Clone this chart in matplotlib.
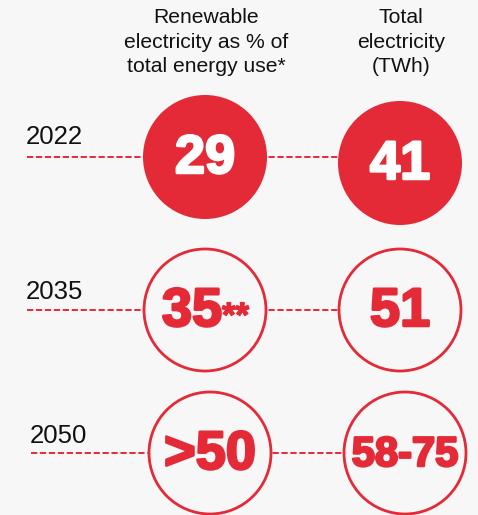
import matplotlib
matplotlib.use("Agg")
import matplotlib.pyplot as plt
import matplotlib.patheffects as pe
from matplotlib.patches import Circle

plt.rcParams["font.family"] = ["Liberation Sans", "DejaVu Sans"]

# データ
years = ["2022", "2035", "2050"]
renewable_share = ["29", "35", ">50"]
renewable_note = ["", "**", ""]
total_twh = ["41", "51", "58-75"]
filled = [True, False, False]
headers = ["Renewable\nelectricity as % of\ntotal energy use*", "Total\nelectricity\n(TWh)"]

# レイアウト（ピクセル座標）
W, H = 478, 515
row_y = [157, 310, 453]
col2_dy = [6, 0, 0]
col_x = [205, 400]
row_dx = [0, 0, 5]
line_x0 = [27, 27, 31]
year_y = [137, 292, 436]
radius = 62
red = "#e52a37"
bg = "#f7f7f7"

fig = plt.figure(figsize=(W / 100, H / 100), dpi=100, facecolor=bg)
ax = fig.add_axes([0, 0, 1, 1])
ax.set_xlim(0, W)
ax.set_ylim(H, 0)
ax.set_aspect("equal")
ax.axis("off")
ax.set_facecolor(bg)

# 見出し
for x, text in zip(col_x, headers):
    ax.text(x + 1, 42, text, ha="center", va="center", fontsize=15.2,
            color="#111111", linespacing=1.36)

for i, year in enumerate(years):
    y = row_y[i]
    dx = row_dx[i]
    x1, x2 = col_x[0] + dx, col_x[1] + dx
    ax.plot([line_x0[i], x2], [y, y], color=red, lw=1.4,
            linestyle=(0, (3.2, 1.4)), zorder=1)
    ax.text(line_x0[i] - 1, year_y[i], year, ha="left", va="center",
            fontsize=18.5, color="#111111")

    centers = [(x1, y), (x2, y + col2_dy[i])]
    values = [renewable_share[i], total_twh[i]]
    for j, ((cx, cy), val) in enumerate(zip(centers, values)):
        if filled[i]:
            ax.add_patch(Circle((cx, cy), radius, facecolor=red,
                                edgecolor=red, lw=0, zorder=2))
            tcolor = "white"
        else:
            ax.add_patch(Circle((cx, cy), radius - 1, facecolor=bg,
                                edgecolor=red, lw=2.0, zorder=2))
            tcolor = red
        size = 30 if len(val) > 3 else 39
        tx = cx
        if j == 0 and renewable_note[i]:
            tx = cx - 13
        t = ax.text(tx, cy + 2, val, ha="center", va="center",
                    fontsize=size, fontweight="bold", color=tcolor, zorder=3)
        t.set_path_effects([pe.withStroke(linewidth=1.8, foreground=tcolor)])
        if j == 0 and renewable_note[i]:
            n = ax.text(tx + 30, cy + 7, renewable_note[i], ha="left",
                        va="center", fontsize=25, fontweight="bold",
                        color=tcolor, zorder=3)
            n.set_path_effects([pe.withStroke(linewidth=1.0, foreground=tcolor)])

plt.savefig("out.png", dpi=100, facecolor=bg)
plt.close()
